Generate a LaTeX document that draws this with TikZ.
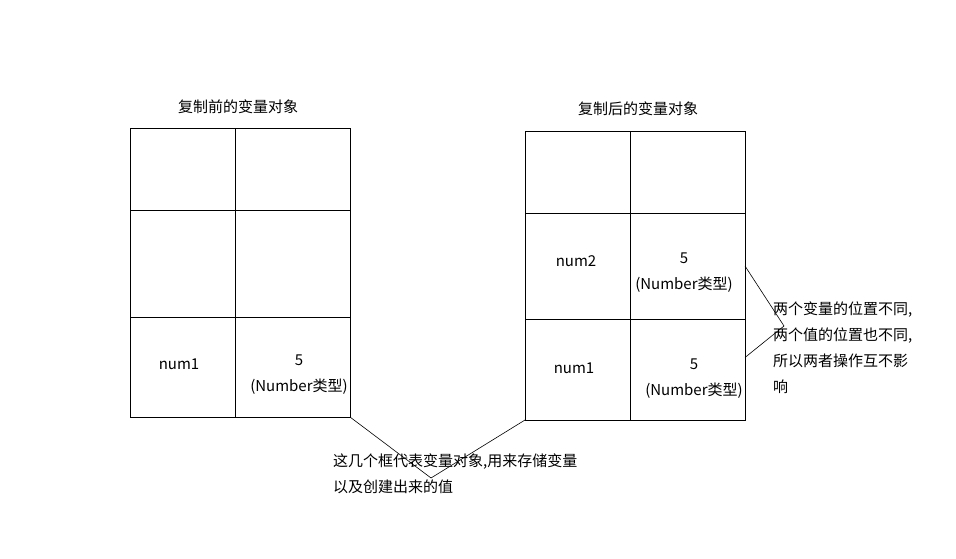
\documentclass[tikz,border=0pt]{standalone}
\usepackage{fontspec}
\setmainfont{Noto Sans CJK SC}
\usetikzlibrary{positioning}
\tikzstyle{cell} = [rectangle, draw=black, line width=0.9pt, inner sep=0pt, outer sep=0pt, anchor=north west]
\tikzstyle{caption} = [font=\fontsize{15}{17}\selectfont, inner sep=0pt]
\tikzstyle{entry} = [font=\fontsize{15}{26}\selectfont, align=center, inner sep=0pt]
\tikzstyle{note} = [font=\fontsize{15}{26}\selectfont, align=left, inner sep=0pt, anchor=west]
\tikzstyle{pointer} = [line width=0.6pt]

\begin{document}
\begin{tikzpicture}[x=1pt,y=-1pt]
        \useasboundingbox (0,0) rectangle (956,559);
        % table before copying
        \node (before-title) [caption] at (238,107) {复制前的变量对象};
        \node (before-11) [cell, minimum width=105pt, minimum height=82pt] at (130,128) {};
        \node (before-12) [cell, minimum width=115pt, minimum height=82pt, right=0pt of before-11] {};
        \node (before-21) [cell, minimum width=105pt, minimum height=107pt, below=0pt of before-11] {};
        \node (before-22) [cell, minimum width=115pt, minimum height=107pt, right=0pt of before-21] {};
        \node (before-31) [cell, minimum width=105pt, minimum height=100pt, below=0pt of before-21] {};
        \node (before-32) [cell, minimum width=115pt, minimum height=100pt, right=0pt of before-31] {};
        \node (before-num1) [entry] at (179,364) {num1};
        \node (before-val1) [entry] at (299,375) {5\\(Number类型)};

        % table after copying
        \node (after-title) [caption] at (638,109) {复制后的变量对象};
        \node (after-11) [cell, minimum width=105pt, minimum height=82pt] at (525,131) {};
        \node (after-12) [cell, minimum width=115pt, minimum height=82pt, right=0pt of after-11] {};
        \node (after-21) [cell, minimum width=105pt, minimum height=106pt, below=0pt of after-11] {};
        \node (after-22) [cell, minimum width=115pt, minimum height=106pt, right=0pt of after-21] {};
        \node (after-31) [cell, minimum width=105pt, minimum height=101pt, below=0pt of after-21] {};
        \node (after-32) [cell, minimum width=115pt, minimum height=101pt, right=0pt of after-31] {};
        \node (after-num2) [entry] at (576,261) {num2};
        \node (after-val2) [entry] at (684,273) {5\\(Number类型)};
        \node (after-num1) [entry] at (574,368) {num1};
        \node (after-val1) [entry] at (694,379) {5\\(Number类型)};

        % notes
        \coordinate (tip-objects) at (431,478);
        \coordinate (tip-places) at (784,326);
        \node (note-objects) [note] at (333,474) {这几个框代表变量对象,用来存储变量\\以及创建出来的值};
        \node (note-places) [note] at (773,348) {两个变量的位置不同,\\两个值的位置也不同,\\所以两者操作互不影\\响};

        \draw [pointer] (before-32.south east) -- (tip-objects) -- (after-31.south west);
        \draw [pointer] (after-22.east) -- (tip-places) -- ([yshift=12pt]after-32.east);
    \end{tikzpicture}
\end{document}
